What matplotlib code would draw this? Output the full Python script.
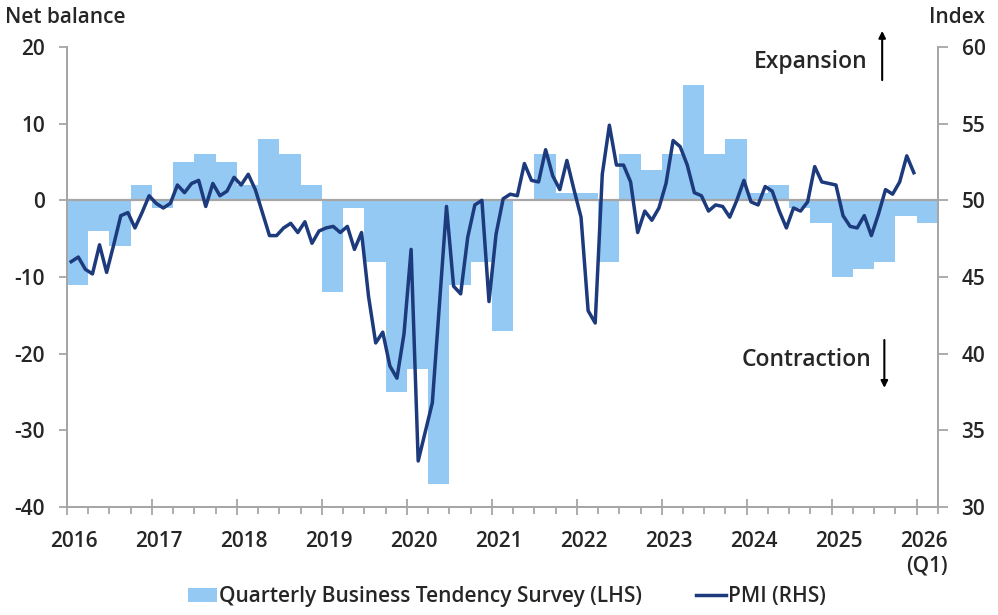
import numpy as np
import matplotlib
matplotlib.use("Agg")
import matplotlib.pyplot as plt
import matplotlib.transforms as mtransforms

plt.rcParams["font.family"] = ["Open Sans", "DejaVu Sans"]
plt.rcParams["axes.unicode_minus"] = False

# ── Data ──────────────────────────────────────────────────────────────────────
# Quarterly Business Tendency Survey, net balance (LHS), 2016 Q1 .. 2026 Q1
bts = [
    -11, -4, -6, 2,      # 2016
    -1, 5, 6, 5,         # 2017
    2, 8, 6, 2,          # 2018
    -12, -1, -8, -25,    # 2019
    -22, -37, -11, -8,   # 2020
    -17, 0, 6, 1,        # 2021
    1, -8, 6, 4,         # 2022
    6, 15, 6, 8,         # 2023
    1, 2, -1, -3,        # 2024
    -10, -9, -8, -2,     # 2025
    -3,                  # 2026
]

# Monthly PMI index (RHS), Jan 2016 .. Dec 2025
pmi = [
    46.0, 46.3, 45.5, 45.2, 47.1, 45.3, 47.1, 49.0, 49.2, 48.2, 49.2, 50.3,  # 2016
    49.8, 49.5, 49.8, 51.0, 50.5, 51.1, 51.3, 49.6, 51.1, 50.3, 50.6, 51.5,  # 2017
    51.0, 51.7, 50.7, 49.2, 47.7, 47.7, 48.2, 48.5, 47.9, 48.6, 47.2, 48.0,  # 2018
    48.2, 48.3, 47.9, 48.3, 46.8, 47.9, 43.7, 40.7, 41.4, 39.2, 38.4, 41.3,  # 2019
    46.8, 33.0, 34.9, 36.8, 43.2, 49.6, 44.4, 43.9, 47.6, 49.7, 50.0, 43.4,  # 2020
    47.8, 50.1, 50.4, 50.3, 52.4, 51.3, 51.2, 53.3, 51.6, 50.7, 52.6, 50.7,  # 2021
    48.9, 42.8, 42.0, 51.7, 54.9, 52.3, 52.3, 51.2, 47.9, 49.3, 48.7, 49.5,  # 2022
    51.1, 53.9, 53.5, 52.3, 50.5, 50.3, 49.3, 49.7, 49.6, 48.9, 50.0, 51.3,  # 2023
    49.9, 49.7, 50.9, 50.6, 49.3, 48.2, 49.5, 49.3, 49.9, 52.2, 51.2, 51.1,  # 2024
    51.0, 49.0, 48.3, 48.2, 49.0, 47.7, 49.1, 50.7, 50.4, 51.2, 52.9, 51.8,  # 2025
]

year_labels = ["2016", "2017", "2018", "2019", "2020", "2021", "2022",
               "2023", "2024", "2025", "2026\n(Q1)"]

BAR_COLOR  = "#93C9F3"
LINE_COLOR = "#1C3A7C"
AXIS_GRAY  = "#A6A6A6"
TEXT_COLOR = "#262626"
FS = 15       # ticks, axis titles, legend
FS_ANN = 16.5 # Expansion / Contraction

# ── Figure ────────────────────────────────────────────────────────────────────
fig = plt.figure(figsize=(9.98, 6.15), dpi=100)
ax = fig.add_axes([0.0671, 0.1756, 0.8727, 0.748])
ax2 = ax.twinx()

# x in months since Jan 2016; bars span a full quarter each
q_left = np.arange(len(bts)) * 3
ax.bar(q_left, bts, width=3, align="edge", color=BAR_COLOR, linewidth=0,
       label="Quarterly Business Tendency Survey (LHS)", zorder=2)
ax.axhline(0, color=AXIS_GRAY, lw=1.6, zorder=3)

months = np.arange(len(pmi)) + 0.6
ax2.plot(months, pmi, color=LINE_COLOR, lw=2.5, solid_joinstyle="round",
         label="PMI (RHS)", zorder=4)

# ── Axes ──────────────────────────────────────────────────────────────────────
ax.set_xlim(0, len(bts) * 3)
ax.set_ylim(-40, 20)
ax2.set_ylim(30, 60)
ax.set_yticks(np.arange(-40, 21, 10))
ax2.set_yticks(np.arange(30, 61, 5))

ax.set_xticks(np.arange(0, 121, 12))
ax.set_xticklabels(year_labels, multialignment="right")
ax.set_xticks(np.arange(0, 124, 3), minor=True)

for a in (ax, ax2):
    a.spines["top"].set_visible(False)
    for side in ("left", "right", "bottom"):
        a.spines[side].set_color(AXIS_GRAY)
        a.spines[side].set_linewidth(1.3)

ax.tick_params(axis="x", which="major", direction="inout", length=11,
               width=1.3, color=AXIS_GRAY, pad=12)
ax.tick_params(axis="x", which="minor", direction="out", length=5,
               width=1.3, color=AXIS_GRAY)
ax.tick_params(axis="y", direction="out", length=6, width=1.3,
               color=AXIS_GRAY, pad=10)
ax2.tick_params(axis="y", direction="out", length=7, width=1.3,
                color=AXIS_GRAY, pad=10)

for lab in ax.get_xticklabels() + ax.get_yticklabels() + ax2.get_yticklabels():
    lab.set_fontsize(FS)
    lab.set_fontweight("semibold")
    lab.set_color(TEXT_COLOR)

# nudge year labels a little right, as in the original
shift = mtransforms.ScaledTranslation(0.07, 0, fig.dpi_scale_trans)
for lab in ax.get_xticklabels():
    lab.set_transform(lab.get_transform() + shift)

# ── Titles / annotations ─────────────────────────────────────────────────────
fig.text(0.005, 0.972, "Net balance", fontsize=FS, fontweight="semibold",
         color=TEXT_COLOR, ha="left", va="center")
fig.text(0.987, 0.972, "Index", fontsize=FS, fontweight="semibold",
         color=TEXT_COLOR, ha="right", va="center")

ax.text(0.9196, 0.967, "Expansion", transform=ax.transAxes, fontsize=FS_ANN,
        fontweight="semibold", color=TEXT_COLOR, ha="right", va="center")
ax.annotate("", xy=(0.936, 1.035), xytext=(0.936, 0.928),
            xycoords="axes fraction", annotation_clip=False,
            arrowprops=dict(arrowstyle="-|>", color="black", lw=1.5,
                            mutation_scale=10, shrinkA=0, shrinkB=0))
ax.text(0.924, 0.3196, "Contraction", transform=ax.transAxes, fontsize=FS_ANN,
        fontweight="semibold", color=TEXT_COLOR, ha="right", va="center")
ax.annotate("", xy=(0.9385, 0.259), xytext=(0.9385, 0.363),
            xycoords="axes fraction", annotation_clip=False,
            arrowprops=dict(arrowstyle="-|>", color="black", lw=1.5,
                            mutation_scale=10, shrinkA=0, shrinkB=0))

# ── Legend ───────────────────────────────────────────────────────────────────
h1, l1 = ax.get_legend_handles_labels()
h2, l2 = ax2.get_legend_handles_labels()
leg = ax2.legend(h1 + h2, l1 + l2, loc="center", bbox_to_anchor=(0.505, -0.195),
                 ncol=2, frameon=False, handlelength=1.4, handletextpad=0.1,
                 columnspacing=2.6, prop={"size": FS, "weight": "semibold"})
for t in leg.get_texts():
    t.set_color(TEXT_COLOR)

fig.savefig("out.png", dpi=100)
